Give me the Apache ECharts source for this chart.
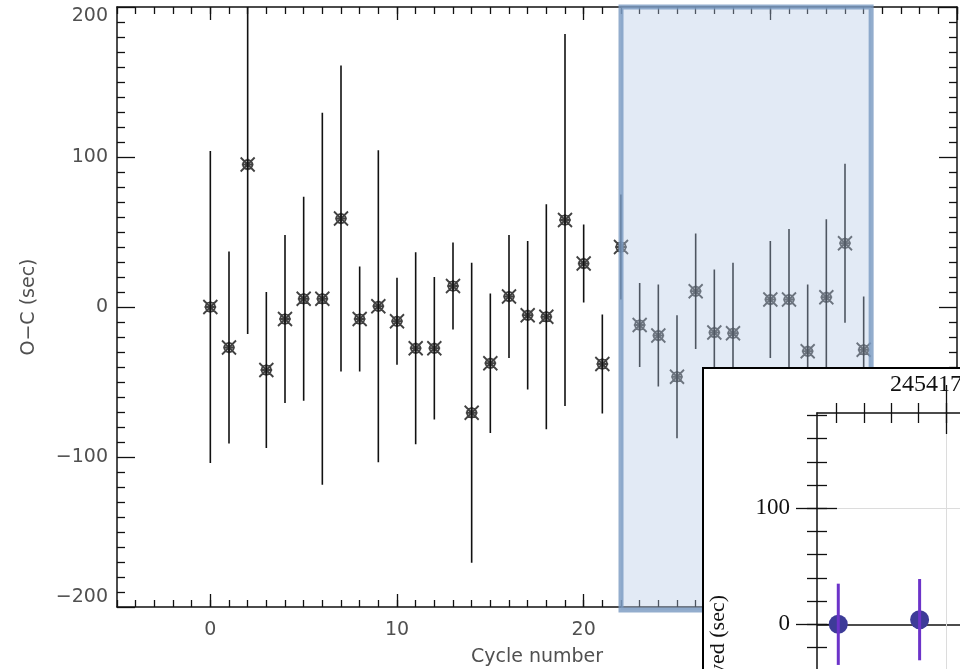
<!DOCTYPE html>
<html><head><meta charset="utf-8">
<script src="https://cdn.jsdelivr.net/npm/echarts@6/dist/echarts.min.js"></script>
<style>html,body{margin:0;padding:0;background:#fff}#c{width:960px;height:669px}</style>
</head><body><div id="c"></div>
<script>
// ---- main panel data ----
const cycles = [0,1,2,3,4,5,6,7,8,9,10,11,12,13,14,15,16,17,18,19,20,21,22,23,24,25,26,27,28,30,31,32,33,34,35];
const oc     = [0,-27,95,-42,-8,5.5,5.5,59,-8,0.5,-9.5,-27.5,-27.5,14,-70.5,-37.5,7,-5.5,-6.5,58,29,-38,40,-12,-19,-46.5,10.5,-17,-17.5,5,5,-29.5,6.5,42.5,-28.5];
const ocErr  = [104,64,113,52,56,68,124,102,35,104,29,64,47.5,29,100,46.5,41,49.5,75,124,26,33,35,28,34,41,38.5,42,47,39,47,44.5,52,53,35.5];
const xMajorTicks = [0,10,20,30,40];
const xTickLabels = [0,10,20,30];
const highlightX = [22, 35.4];
const highlightY = [-202, 200];
// ---- inset data ----
const insetX   = [0.06, 3.04];
const insetY   = [0, 4];
const insetErr = [35, 35];
const insetXTicks = [0,1,2,3,4];
const insetXMajor = [4];
const insetYMinor = [-20,0,20,40,60,80,100,120,140,160,180];
const insetYMajor = [0,100];
const insetYLabels = [0,100];
const insetTitle = '2454170';
const insetYName = 'Observed (sec)';

const AX = '#111';
const TXT = '#505050';
const FONT = 'DejaVu Sans';
const SERIF = 'Liberation Serif';

const chart = echarts.init(document.getElementById('c'), null, {renderer: 'canvas'});
const minus = v => v < 0 ? '\u2212' + (-v) : String(v);

function xAx(grid, pos, extra) {
  const o = Object.assign({gridIndex: grid, type: 'value', position: pos,
    splitLine: {show: false}, axisLabel: {show: false}}, extra);
  o.axisLine = Object.assign({onZero: false}, o.axisLine || {});
  return o;
}
function yAx(grid, pos, extra) {
  const o = Object.assign({gridIndex: grid, type: 'value', position: pos,
    splitLine: {show: false}, axisLabel: {show: false}}, extra);
  o.axisLine = Object.assign({onZero: false}, o.axisLine || {});
  return o;
}

const mainX = {min: -5, max: 40};
const inX = {min: -0.72, max: 4.52};
const inY = {min: -38.5, max: 182};
const TL = {color: AX, width: 1.3};

const option = {
  animation: false,
  backgroundColor: '#fff',
  grid: [
    {left: 117, top: 7, width: 840, height: 600, containLabel: false, outerBoundsMode: 'none'},
    {left: 817, top: 413, right: 0, bottom: 0, z: 11, containLabel: false, outerBoundsMode: 'none'}
  ],
  xAxis: [
    xAx(0, 'bottom', Object.assign({interval: 1, axisLine: {lineStyle: {color: AX, width: 1.5}},
      axisTick: {inside: true, length: 7, lineStyle: TL}}, mainX)),
    xAx(0, 'bottom', Object.assign({axisLine: {show: false},
      axisTick: {inside: true, length: 13, customValues: xMajorTicks, lineStyle: TL},
      axisLabel: {show: true, customValues: xTickLabels, fontFamily: FONT, fontSize: 19, color: TXT, margin: 14},
      name: 'Cycle number', nameLocation: 'middle', nameGap: 41,
      nameTextStyle: {fontFamily: FONT, fontSize: 19, color: TXT}}, mainX)),
    xAx(0, 'top', Object.assign({interval: 1, axisLine: {lineStyle: {color: AX, width: 1.5}},
      axisTick: {inside: true, length: 7, lineStyle: TL}}, mainX)),
    xAx(0, 'top', Object.assign({axisLine: {show: false},
      axisTick: {inside: true, length: 13, customValues: xMajorTicks, lineStyle: TL}}, mainX)),
    // inset x axes (top)
    xAx(1, 'top', Object.assign({z: 11, axisLine: {lineStyle: {color: AX, width: 1.5}},
      axisTick: {inside: false, length: 10, customValues: insetXTicks, lineStyle: TL}}, inX)),
    xAx(1, 'top', Object.assign({z: 11, axisLine: {show: false},
      axisTick: {inside: true, length: 10, customValues: insetXTicks, lineStyle: TL}}, inX)),
    xAx(1, 'top', Object.assign({z: 11, axisLine: {show: false},
      axisTick: {inside: false, length: 28, customValues: insetXMajor, lineStyle: TL}}, inX)),
    xAx(1, 'top', Object.assign({z: 11, axisLine: {show: false},
      axisTick: {inside: true, length: 21, customValues: insetXMajor, lineStyle: TL}}, inX))
  ],
  yAxis: [
    yAx(0, 'left', {min: -200, max: 200, interval: 100,
      axisLine: {show: true, lineStyle: {color: AX, width: 1.5}},
      axisTick: {show: true, inside: true, length: 18, lineStyle: TL},
      minorTick: {show: true, splitNumber: 10, length: 8, lineStyle: TL},
      axisLabel: {show: true, fontFamily: FONT, fontSize: 19, color: TXT, margin: 9, formatter: minus,
        verticalAlignMaxLabel: 'top', verticalAlignMinLabel: 'bottom'},
      name: 'O\u2212C (sec)', nameLocation: 'middle', nameGap: 78, nameRotate: 90,
      nameTextStyle: {fontFamily: FONT, fontSize: 19, color: TXT}}),
    yAx(0, 'right', {min: -200, max: 200, interval: 100,
      axisLine: {show: true, lineStyle: {color: AX, width: 1.5}},
      axisTick: {show: true, inside: true, length: 18, lineStyle: TL},
      minorTick: {show: true, splitNumber: 10, length: 8, lineStyle: TL}}),
    // inset y axes
    yAx(1, 'left', Object.assign({z: 11,
      axisLine: {show: true, lineStyle: {color: AX, width: 1.5}},
      axisTick: {show: true, inside: false, length: 10, customValues: insetYMinor, lineStyle: TL},
      axisLabel: {show: true, customValues: insetYLabels, fontFamily: SERIF, fontSize: 23, color: '#111', margin: 27}}, inY)),
    yAx(1, 'left', Object.assign({z: 11, axisLine: {show: false},
      axisTick: {show: true, inside: true, length: 10, customValues: insetYMinor, lineStyle: TL}}, inY)),
    yAx(1, 'left', Object.assign({z: 11, axisLine: {show: false},
      axisTick: {show: true, inside: false, length: 21, customValues: insetYMajor, lineStyle: TL}}, inY)),
    yAx(1, 'left', Object.assign({z: 11, axisLine: {show: false},
      axisTick: {show: true, inside: true, length: 20, customValues: insetYMajor, lineStyle: TL}}, inY))
  ],
  graphic: [
    {type: 'rect', z: 10, shape: {x: 703, y: 368, width: 300, height: 320},
      style: {fill: '#fff', stroke: '#000', lineWidth: 2}},
    {type: 'text', z: 12, x: 890, y: 385,
      style: {text: insetTitle, font: '24px "' + SERIF + '"', fill: '#111', verticalAlign: 'middle', align: 'left'}},
    {type: 'text', z: 12, x: 718, y: 595, rotation: Math.PI / 2,
      style: {text: insetYName, font: '22px "' + SERIF + '"', fill: '#111', verticalAlign: 'middle', align: 'right'}}
  ],
  series: [
    {type: 'custom', name: 'errbars', xAxisIndex: 0, yAxisIndex: 0, z: 2, clip: true,
      data: cycles.map((c, i) => [c, oc[i] - ocErr[i], oc[i] + ocErr[i]]),
      encode: {x: 0, y: [1, 2]},
      renderItem: function (params, api) {
        const a = api.coord([api.value(0), api.value(1)]);
        const b = api.coord([api.value(0), api.value(2)]);
        return {type: 'line', shape: {x1: a[0], y1: a[1], x2: b[0], y2: b[1]},
          style: {stroke: '#111', lineWidth: 1.6}};
      }},
    {type: 'scatter', name: 'O-C', xAxisIndex: 0, yAxisIndex: 0, z: 3,
      data: cycles.map((c, i) => [c, oc[i]]),
      symbol: 'path://M0 0L12 12M12 0L0 12M2 6A4 4 0 1 0 10 6A4 4 0 1 0 2 6ZM6 1L6 11M1 6L11 6',
      symbolSize: 14,
      itemStyle: {color: 'rgba(0,0,0,0)', borderColor: '#111', borderWidth: 1.8}},
    {type: 'custom', name: 'highlight', xAxisIndex: 0, yAxisIndex: 0, z: 5, clip: false, silent: true,
      data: [[highlightX[0], highlightX[1], highlightY[0], highlightY[1]]],
      renderItem: function (params, api) {
        const tl = api.coord([api.value(0), api.value(3)]);
        const br = api.coord([api.value(1), api.value(2)]);
        return {type: 'rect', shape: {x: tl[0], y: tl[1], width: br[0] - tl[0], height: br[1] - tl[1]},
          style: {fill: 'rgba(180,200,230,0.38)', stroke: 'rgba(120,152,192,0.8)', lineWidth: 5}};
      }},
    {type: 'scatter', name: 'inset', xAxisIndex: 4, yAxisIndex: 2, z: 12,
      data: insetX.map((x, i) => [x, insetY[i]]),
      symbol: 'circle', symbolSize: 19,
      itemStyle: {color: '#3d3b98', opacity: 1},
      markLine: {z: 11, silent: true, symbol: 'none', label: {show: false}, animation: false,
        data: [
          {yAxis: 0, lineStyle: {color: '#111', width: 1.5, type: 'solid'}},
          {yAxis: 100, lineStyle: {color: '#dcdcdc', width: 1, type: 'solid'}},
          {xAxis: insetXMajor[0], lineStyle: {color: '#dcdcdc', width: 1, type: 'solid'}}
        ]}},
    {type: 'custom', name: 'insetErr', xAxisIndex: 4, yAxisIndex: 2, z: 13, clip: false,
      data: insetX.map((x, i) => [x, insetY[i] - insetErr[i], insetY[i] + insetErr[i]]),
      encode: {x: 0, y: [1, 2]},
      renderItem: function (params, api) {
        const a = api.coord([api.value(0), api.value(1)]);
        const b = api.coord([api.value(0), api.value(2)]);
        return {type: 'line', shape: {x1: a[0], y1: a[1], x2: b[0], y2: b[1]},
          style: {stroke: '#6c33c9', lineWidth: 3}};
      }}
  ]
};
chart.setOption(option);
</script>
</body></html>
